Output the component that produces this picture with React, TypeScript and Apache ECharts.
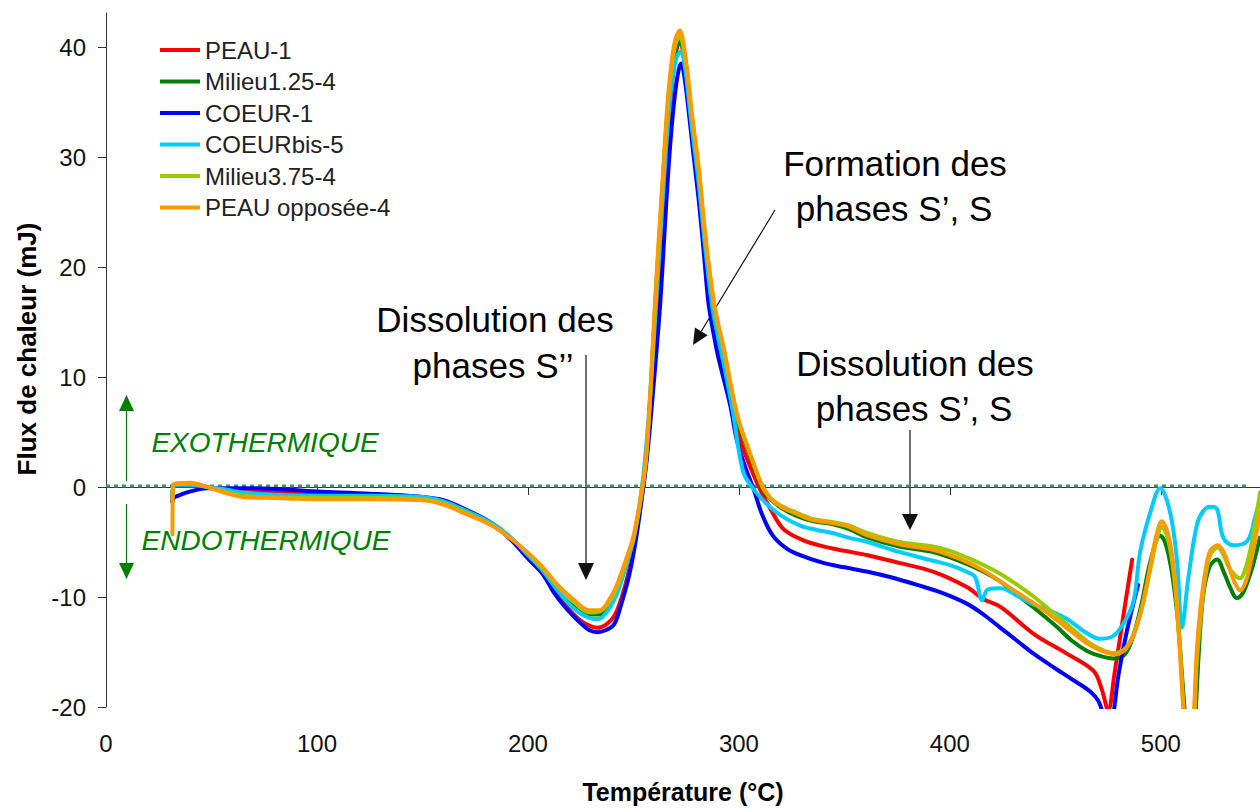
import React, { useEffect, useRef } from "react";
import * as echarts from "echarts";

const seriesNames = ["PEAU-1", "Milieu1.25-4", "COEUR-1", "COEURbis-5", "Milieu3.75-4", "PEAU opposée-4"];
const seriesColors = ["#ff0000", "#008000", "#0000ff", "#00ccff", "#99cc00", "#ff9900"];
const xTicks = [0, 100, 200, 300, 400, 500];
const yTicks = [-20, -10, 0, 10, 20, 30, 40];

const peau1 = [
  [31.5, -0.9], [32, 0.1], [40, 0.1], [50, -0.1], [75, -0.4], [100, -0.6], [125, -0.7], [150, -0.9], [160, -1.3],
  [170, -2.1], [183, -3.4], [192, -4.8], [200.5, -6.5], [207, -7.8], [212, -9.3], [218, -10.8], [224, -12], [229, -12.6],
  [233, -12.8], [237, -12.5], [241, -11.7], [244.5, -10], [248, -7.5], [251, -4.5], [254, -0.6], [256, 2.8], [258.5, 8.9],
  [261.5, 16.4], [264, 25], [266, 31], [268, 36], [270, 39.3], [272, 40.6], [274, 39.3], [276, 36], [278, 32.5], [281, 27.5],
  [284, 22], [287, 17.5], [290, 14], [294, 9.5], [297, 7], [300.6, 4.3], [305, 2], [310, -0.2], [315, -2], [321, -3.8],
  [330, -4.8], [340, -5.4], [350, -5.8], [361, -6.2], [376, -6.9], [392, -7.7], [408, -9.1], [416, -10.2], [424, -10.9],
  [440, -13.4], [455, -15.1], [468, -16.7], [472, -18.4], [475, -20.3], [478, -17], [482, -12], [486.4, -6.6],
];

const milieu125 = [
  [31.5, -1.4], [32, 0.1], [40, 0.2], [48, 0], [56, -0.3], [65, -0.6], [80, -0.8], [100, -0.9], [125, -0.9], [150, -1.0],
  [160, -1.4], [170, -2.2], [183, -3.4], [192, -4.7], [200, -6.1], [207, -7.5], [214, -9.2], [222, -10.8], [229, -11.6],
  [234, -11.6], [239, -10.6], [243, -9], [247, -6.8], [250, -5], [254, -0.8], [256, 2.3], [258, 8], [260, 15.2], [262, 21.8],
  [264, 27.8], [266, 33.6], [268, 37.6], [270, 39.8], [272, 40.4], [274, 39.1], [276, 36.2], [278, 32.8], [281, 28.3],
  [284, 22.5], [288, 16.5], [290, 14.5], [293, 12], [297, 8.1], [300, 5.7], [305, 3], [311, -0.1], [315, -1.1], [320, -1.9],
  [327, -2.6], [335, -3.1], [345, -3.4], [352, -3.8], [361, -4.6], [376, -5.4], [392, -5.9], [400, -6.4], [408, -7],
  [416, -7.7], [424, -8.6], [432, -9.8], [440, -11], [450, -12.6], [458, -14], [465, -14.9], [472, -15.4], [478, -15.6],
  [483, -15.2], [487, -13.5], [491, -10.5], [495, -6.8], [499.7, -4.4], [502, -5], [505, -7.5], [508, -12], [510, -17],
  [512, -22], [514, -26], [516, -22], [518, -15], [520, -10], [523, -7.3], [526.6, -6.6], [530, -7.8], [533, -9.2],
  [536, -10.1], [539, -9.6], [541.5, -8.4], [543.7, -7.1], [547, -4.6],
];

const coeur1 = [
  [31.5, -1.3], [32, -1.0], [34, -0.8], [40, -0.4], [48, -0.1], [70, -0.1], [100, -0.4], [125, -0.6], [150, -0.9],
  [160, -1.2], [170, -2.0], [183, -3.3], [192, -4.8], [200.5, -6.6], [207, -7.9], [212, -9.5], [218, -11], [224, -12.2],
  [229, -13], [233, -13.2], [237, -13], [240.8, -12.5], [244, -10.8], [248, -8], [251, -5], [254, -1], [256.5, 2.8],
  [259.4, 8.9], [262.6, 16.4], [265, 24], [267, 30], [269, 34.5], [271, 37.5], [272.6, 38.5], [274, 37.5], [276, 34.5],
  [278, 31], [281, 26], [283.5, 21], [285.4, 17], [287, 15], [290, 12], [295.8, 7.5], [299, 4.3], [303, 1.8], [307, -0.2],
  [311, -2.5], [316, -4.4], [322, -5.5], [329, -6.2], [340, -6.9], [350, -7.3], [361, -7.7], [372, -8.2], [384.5, -8.9],
  [396, -9.6], [408, -10.6], [416, -11.6], [424, -12.8], [432, -14], [440, -15.2], [450, -16.5], [458, -17.5],
  [466.5, -18.6], [471, -19.7], [474, -22], [476, -23], [478, -20], [480, -17], [484, -13], [489.2, -8.9],
];

const coeurBis5 = [
  [31.5, -0.7], [32, 0.2], [40, 0.2], [48, 0], [56, -0.2], [65, -0.5], [80, -0.7], [100, -0.8], [125, -0.8], [150, -0.9],
  [160, -1.3], [170, -2.1], [183, -3.3], [192, -4.6], [200, -6.2], [207, -7.6], [214, -9.4], [222, -11.1], [229, -11.9],
  [233.5, -12], [238, -11.2], [242, -9.8], [246, -7.5], [250, -4.8], [253, -1.5], [255.5, 2.5], [258, 8.5], [260.5, 16],
  [262.5, 22], [264.5, 28], [266.5, 33.5], [268.5, 37.2], [270.5, 39.1], [272.5, 39.6], [274.3, 38.3], [276, 35.6],
  [278, 32.2], [281, 27.5], [284, 21.8], [287.5, 16.2], [290, 13.8], [293, 11], [297, 7], [302, 1.4], [307, -0.2],
  [313, -1.5], [320, -2.6], [329, -3.5], [337, -3.9], [345, -4.2], [352, -4.6], [361, -5], [376, -5.9], [392, -6.7],
  [400, -7.1], [408, -7.7], [412, -8.2], [415.3, -10.3], [418, -9.3], [424, -9.2], [432, -9.9], [440, -10.7], [448, -11.3],
  [455.5, -12], [465, -13.3], [471, -13.8], [477, -13.6], [482, -12.5], [487, -10.4], [490.2, -5.9], [495, -2.3],
  [499.7, -0.1], [504.4, -2.3], [507.7, -6.8], [510, -12.8], [513, -8.3], [517, -3.5], [520, -2.2], [523.4, -1.8],
  [526.6, -2], [529.6, -4.6], [534.3, -5.3], [541, -4.9], [544.6, -2.8], [547, -1],
];

const milieu375 = [
  [31.5, -1.0], [32, 0.2], [40, 0.3], [48, 0], [56, -0.4], [65, -0.8], [80, -0.95], [100, -1.0], [125, -1.0], [150, -1.1],
  [160, -1.5], [170, -2.3], [183, -3.5], [192, -4.7], [200, -6.0], [207, -7.4], [214, -9.0], [222, -10.5], [229, -11.4],
  [234, -11.3], [239, -10.3], [243, -8.7], [247, -6.5], [250, -4.7], [254, -0.5], [256, 2.5], [258, 8.3], [260, 15.5],
  [262, 22], [264, 28], [266, 34], [268, 38], [270, 40.3], [272, 41], [274, 39.6], [276, 36.7], [278, 33.2], [281, 28.7],
  [284, 22.8], [288, 16.8], [290, 14.8], [293, 12.3], [297, 8.3], [300, 5.9], [305, 3.2], [311, 0.1], [315, -1],
  [320, -1.7], [327, -2.3], [335, -2.9], [345, -3.2], [352, -3.5], [361, -4.2], [376, -5.0], [392, -5.4], [400, -5.8],
  [408, -6.4], [416, -7.1], [424, -7.9], [432, -8.9], [440, -10.0], [450, -11.6], [458, -12.9], [465, -14.0], [472, -14.8],
  [478, -15.1], [483, -14.7], [487, -13.4], [491, -11], [495, -7.5], [498, -4.8], [500.5, -3.6], [503, -4.5], [505, -6.3],
  [507, -9.5], [509, -14.5], [511, -21], [513, -25], [515.5, -22], [517, -16], [518.8, -12], [521, -8.3], [523.4, -6.2],
  [527, -5.5], [530, -6.3], [532, -7.2], [535, -8], [537.6, -8.3], [540, -7.5], [542.3, -5.8], [545, -3], [547, -0.5],
];

const peauOpposee4 = [
  [31.5, -4.3], [32, 0.3], [40, 0.4], [48, 0], [56, -0.5], [65, -0.9], [80, -1.0], [100, -1.1], [125, -1.1], [150, -1.2],
  [160, -1.6], [170, -2.4], [183, -3.5], [192, -4.7], [200, -6.0], [207, -7.3], [214, -8.9], [222, -10.3], [229, -11.2],
  [234, -11.2], [239, -10.1], [243, -8.5], [247, -6.3], [250, -4.5], [254, -0.2], [256, 2.8], [258, 8.6], [260, 16],
  [262, 22.5], [264, 28.5], [266, 34.5], [268, 38.5], [270, 40.8], [272, 41.5], [274, 40], [276, 37], [278, 33.5],
  [281, 29], [284, 23], [288, 17], [290, 15], [293, 12.5], [297, 8.5], [300, 6], [305, 3.2], [311, 0.1], [315, -1],
  [320, -1.8], [327, -2.4], [335, -3], [345, -3.3], [352, -3.6], [361, -4.4], [376, -5.2], [392, -5.7], [400, -6.2],
  [408, -6.8], [416, -7.6], [424, -8.6], [432, -9.6], [440, -10.6], [450, -12.0], [458, -13.2], [465, -14.2], [472, -14.9],
  [478, -15.2], [483, -14.8], [487, -13.5], [491, -11], [495, -7.2], [498, -4.3], [500.5, -3.1], [503, -4], [505, -5.8],
  [507, -9], [509, -15], [511, -21], [513, -26], [515.5, -21], [517, -15], [518.6, -11.3], [521, -7.8], [523.4, -5.8],
  [527, -5.3], [530, -6], [532, -7.1], [535, -8.7], [537.6, -9.4], [540, -8.7], [542.3, -7.1], [545, -4.5], [547, -2.3],
];

const seriesData = [peau1, milieu125, coeur1, coeurBis5, milieu375, peauOpposee4];
const zeroLine = [[0, 0.1], [541, 0.1]];

const FONT = "'Liberation Sans', Arial, sans-serif";

function txt(text: string, x: number, y: number, size: number, fill = "#000", italic = false) {
  return {
    type: "text",
    x,
    y,
    silent: true,
    style: {
      text,
      fill,
      fontSize: size,
      fontFamily: FONT,
      fontStyle: italic ? "italic" : "normal",
      align: "center",
      verticalAlign: "middle",
    },
  };
}

function line(x1: number, y1: number, x2: number, y2: number, stroke: string, w = 1) {
  return { type: "line", silent: true, shape: { x1, y1, x2, y2 }, style: { stroke, lineWidth: w } };
}

function head(points: number[][], fill: string) {
  return { type: "polygon", silent: true, shape: { points }, style: { fill } };
}

export default function App() {
  const ref = useRef<HTMLDivElement>(null);
  useEffect(() => {
    if (!ref.current) return;
    const chart = echarts.init(ref.current, null, { renderer: "svg" });
    const green = "#008000";
    const curveSeries = seriesData.map((d, i) => ({
      name: seriesNames[i],
      type: "line",
      data: d,
      showSymbol: false,
      smooth: 0.35,
      clip: true,
      lineStyle: { color: seriesColors[i], width: 4, join: "round", cap: "round" },
      itemStyle: { color: seriesColors[i] },
      z: 3 + i,
    }));
    const option: any = {
      animation: false,
      backgroundColor: "#ffffff",
      textStyle: { fontFamily: FONT },
      grid: { left: 106, right: 0, top: 13, bottom: 97, containLabel: false },
      legend: {
        left: 160,
        top: 38,
        padding: 0,
        orient: "vertical",
        icon: "rect",
        itemWidth: 40,
        itemHeight: 4,
        itemGap: 7.5,
        data: seriesNames,
        textStyle: { fontSize: 24, color: "#222", lineHeight: 24, fontFamily: FONT },
      },
      xAxis: {
        type: "value",
        min: 0,
        max: 547,
        interval: 100,
        name: "Température (°C)",
        nameLocation: "middle",
        nameGap: 72,
        nameTextStyle: { fontSize: 25, fontWeight: "bold", color: "#000", fontFamily: FONT },
        splitLine: { show: false },
        axisLine: { lineStyle: { color: "#333", width: 1 } },
        axisTick: { length: 8, lineStyle: { color: "#333" }, customValues: xTicks },
        axisLabel: { fontSize: 24, color: "#111", margin: 24, customValues: xTicks, fontFamily: FONT },
      },
      yAxis: {
        type: "value",
        min: -20,
        max: 43.1,
        interval: 10,
        name: "Flux de chaleur (mJ)",
        nameLocation: "middle",
        nameGap: 64,
        nameTextStyle: { fontSize: 26, fontWeight: "bold", color: "#000", fontFamily: FONT, padding: [0, 0, 0, 22] },
        splitLine: { show: false },
        axisLine: { show: true, lineStyle: { color: "#333", width: 1 } },
        axisTick: { show: true, length: 8, lineStyle: { color: "#333" }, customValues: yTicks },
        axisLabel: { fontSize: 24, color: "#111", margin: 20, customValues: yTicks, fontFamily: FONT },
      },
      series: [
        {
          name: "zero",
          type: "line",
          data: zeroLine,
          showSymbol: false,
          silent: true,
          lineStyle: { color: "#339966", width: 3, type: [4, 4] },
          z: 2,
        },
        ...curveSeries,
      ],
      graphic: [
        line(126.5, 408, 126.5, 481, green, 1.2),
        head([[126.5, 395], [119, 411], [134, 411]], green),
        line(126.5, 504, 126.5, 566, green, 1.2),
        head([[126.5, 579], [119, 563], [134, 563]], green),
        txt("EXOTHERMIQUE", 265, 442, 28, green, true),
        txt("ENDOTHERMIQUE", 266, 540, 28, green, true),
        txt("Dissolution des", 495, 319, 35),
        txt("phases S’’", 493, 365, 35),
        line(586, 355, 586, 566, "#111", 1.2),
        head([[586, 580], [578, 563], [594, 563]], "#111"),
        txt("Formation des", 895, 163, 35),
        txt("phases S’, S", 894, 208, 35),
        line(775, 210, 701.3, 331.3, "#111", 1.2),
        head([[693, 345], [707.7, 335.2], [694.9, 327.4]], "#111"),
        txt("Dissolution des", 915, 363, 35),
        txt("phases S’, S", 914, 408, 35),
        line(910, 430, 910, 516, "#111", 1.2),
        head([[910, 530], [902, 514], [918, 514]], "#111"),
      ],
    };
    chart.setOption(option);
    return () => chart.dispose();
  }, []);
  return (
    <div
      ref={ref}
      style={{ position: "absolute", left: 0, top: 0, width: 1260, height: 809, background: "#fff" }}
    />
  );
}
